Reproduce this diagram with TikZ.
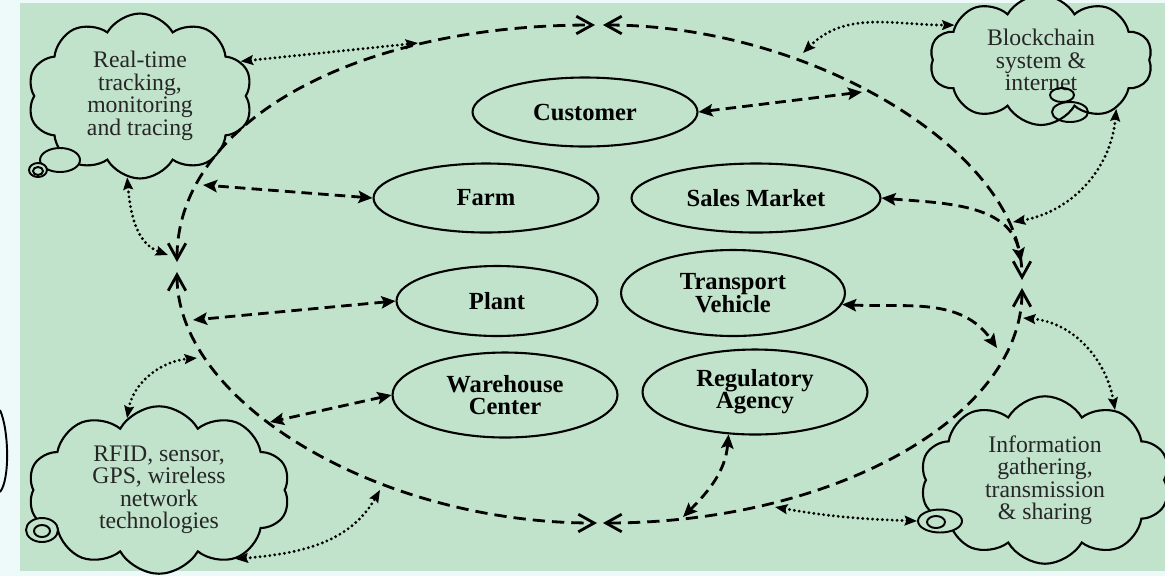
\documentclass[tikz,border=0pt]{standalone}
\usepackage{fontspec}
\setmainfont{Liberation Serif}
\usetikzlibrary{arrows.meta,shapes.geometric,shapes.symbols}
\definecolor{bggreen}{RGB}{193,227,203}
\definecolor{paper}{RGB}{238,250,250}

\begin{document}
\begin{tikzpicture}[x=0.02cm, y=-0.02cm,
    unit/.style={ellipse, draw, line width=1.2pt, inner sep=0pt, align=center,
      font=\fontsize{14}{12.7}\selectfont\bfseries},
    thought/.style={cloud, draw, line width=1.2pt, cloud puffs=10, cloud puff arc=120,
      fill=bggreen, align=center, inner sep=-15pt, text=black!85,
      font=\fontsize{13.5}{12.8}\selectfont},
    bubble/.style={draw, line width=1.1pt, fill=bggreen},
    ring/.style={line width=1.6pt, dash pattern=on 7pt off 4pt,
      {Straight Barb[length=9pt,width=10pt]}-{Straight Barb[length=9pt,width=10pt]}},
    link/.style={line width=1.6pt, dash pattern=on 6pt off 3.5pt,
      {Stealth[length=8pt,width=7pt,inset=1.5pt]}-{Stealth[length=8pt,width=7pt,inset=1.5pt]}},
    feed/.style={line width=1.8pt, line cap=round, dash pattern=on 0pt off 2.8pt,
      {Stealth[length=7pt,width=5.5pt,inset=1pt]}-{Stealth[length=7pt,width=5.5pt,inset=1pt]}}]

  % --- Background ---
  \useasboundingbox (0,0) rectangle (1165,576);
  \fill[paper] (0,0) rectangle (1165,576);
  \fill[bggreen] (20,3) rectangle (1165,571);
  \draw[line width=1.1pt] (0,410) .. controls (9,430) and (10,480) .. (0,492);

  % --- Stages of the chain ---
  \node[unit, minimum width=4.5cm, minimum height=1.38cm] (customer) at (585,112) {Customer};
  \node[unit, minimum width=4.5cm, minimum height=1.38cm] (farm) at (486,198) {Farm};
  \node[unit, minimum width=4.98cm, minimum height=1.38cm] (sales) at (756,198) {Sales Market};
  \node[unit, minimum width=4.02cm, minimum height=1.4cm] (plant) at (497,301) {Plant};
  \node[unit, minimum width=4.48cm, minimum height=1.72cm] (transport) at (733,293) {Transport\\Vehicle};
  \node[unit, minimum width=4.5cm, minimum height=1.7cm] (warehouse) at (505,395) {Warehouse\\Center};
  \node[unit, minimum width=4.5cm, minimum height=1.7cm] (regulatory) at (755,392) {Regulatory\\Agency};

  % --- Technology clouds ---
  \node[thought, minimum width=4.5cm, minimum height=3.3cm] (tracking) at (140,96)
    {Real-time\\tracking,\\monitoring\\and tracing};
  \node[thought, minimum width=4.46cm, minimum height=2.6cm] (blockchain) at (1041,60)
    {Blockchain\\system \&\\internet};
  \node[thought, minimum width=5.24cm, minimum height=3.35cm] (sensing) at (159,490)
    {RFID, sensor,\\GPS, wireless\\network\\technologies};
  \node[thought, minimum width=5.0cm, minimum height=3.35cm] (sharing) at (1045,480)
    {Information\\gathering,\\transmission\\\& sharing};

  % thought bubbles
  \draw[bubble] (60,160) ellipse [x radius=0.4cm, y radius=0.24cm];
  \draw[bubble] (38,170) ellipse [x radius=0.18cm, y radius=0.14cm];
  \draw[bubble] (38,171) ellipse [x radius=0.1cm, y radius=0.08cm];
  \draw[line width=1.1pt] (1062,95) ellipse [x radius=0.24cm, y radius=0.14cm];
  \draw[line width=1.1pt] (1070,112) ellipse [x radius=0.36cm, y radius=0.2cm];
  \draw[bubble] (42,530) ellipse [x radius=0.32cm, y radius=0.24cm];
  \draw[bubble] (42,531) ellipse [x radius=0.16cm, y radius=0.12cm];
  \node[ellipse, bubble, inner sep=0pt, minimum width=0.88cm, minimum height=0.46cm] (sharingtail) at (940,521) {};
  \draw[line width=1.1pt] (936,522) ellipse [x radius=0.18cm, y radius=0.12cm];

  % --- Outer loop ---
  \coordinate (L1) at (177,262); \coordinate (L2) at (177,272);
  \coordinate (T1) at (595,25);  \coordinate (T2) at (603,25);
  \coordinate (R1) at (1022,280); \coordinate (R2) at (1022,288);
  \coordinate (B1) at (597,523); \coordinate (B2) at (603,523);
  \draw[ring] (L1) .. controls (177,125) and (350,25) .. (T1);
  \draw[ring] (T2) .. controls (812,25) and (1022,152) .. (R1);
  \draw[ring] (R2) .. controls (1022,417) and (833,523) .. (B2);
  \draw[ring] (L2) .. controls (177,403) and (379,523) .. (B1);

  % points on the loop
  \coordinate (customerP) at (862,92);
  \coordinate (farmP) at (203,185);
  \coordinate (salesP) at (1021,262);
  \coordinate (plantP) at (193,320);
  \coordinate (transportP) at (997,348);
  \coordinate (warehouseP) at (270,422);
  \coordinate (regulatoryP) at (683,517);
  \coordinate (trackingA) at (418,43);
  \coordinate (trackingB) at (168,255);
  \coordinate (blockchainA) at (803,53);
  \coordinate (blockchainB) at (1013,222);
  \coordinate (sensingA) at (197,358);
  \coordinate (sensingB) at (380,490);
  \coordinate (sharingA) at (1023,318);
  \coordinate (sharingB) at (775,507);

  % --- Stage links ---
  \draw[link] (customer.east) -- (customerP);
  \draw[link] (farm.west) -- (farmP);
  \draw[link] (sales.east) to[out=-5, in=100] (salesP);
  \draw[link] (plant.west) -- (plantP);
  \draw[link] (transport.-6) to[out=-3, in=125] (transportP);
  \draw[link] (warehouse.west) -- (warehouseP);
  \draw[link] (regulatory.-122) to[out=-95, in=45] (regulatoryP);

  % --- Cloud links ---
  \draw[feed] (tracking.19) -- (trackingA);
  \draw[feed] (tracking.-99) to[out=-85, in=160] (trackingB);
  \draw[feed] (blockchainA) to[out=45, in=180] (blockchain.158);
  \draw[feed] (blockchain.-33) to[out=-95, in=10] (blockchainB);
  \draw[feed] (sensing.114) to[out=80, in=185] (sensingA);
  \draw[feed] (sensing.-42) to[out=5, in=-120] (sensingB);
  \draw[feed] (sharingA) to[out=-5, in=100] (sharing.45);
  \draw[feed] (sharingB) to[out=-10, in=178] (sharingtail.west);
\end{tikzpicture}
\end{document}
